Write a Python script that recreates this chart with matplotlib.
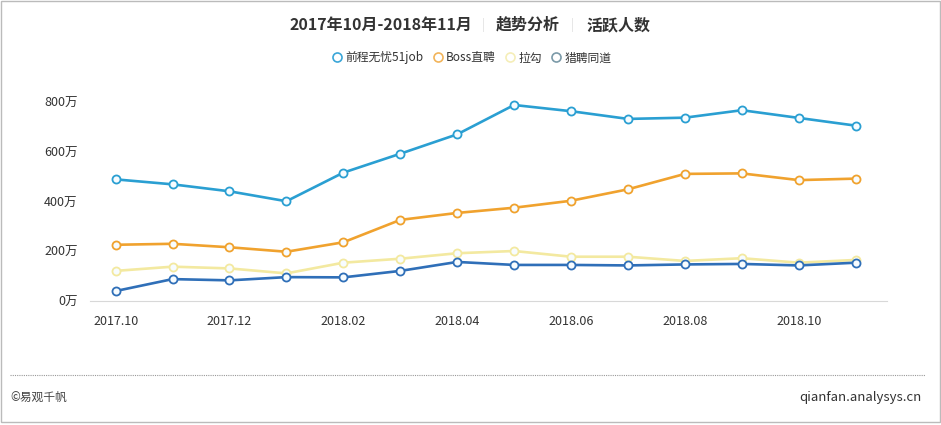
import matplotlib
matplotlib.use("Agg")
import matplotlib.pyplot as plt
import matplotlib.patches as mpatches
from matplotlib.lines import Line2D

plt.rcParams['font.family'] = ['Noto Sans CJK SC', 'DejaVu Sans']

# 数据 (单位: 万)
months = ['2017.10', '2017.11', '2017.12', '2018.01', '2018.02', '2018.03', '2018.04',
          '2018.05', '2018.06', '2018.07', '2018.08', '2018.09', '2018.10', '2018.11']
job51 = [489, 469, 441, 401, 516, 592, 670, 788, 763, 732, 737, 767, 736, 705]
boss = [226, 230, 216, 198, 236, 326, 354, 375, 403, 449, 511, 513, 486, 492]
lagou = [121, 138, 131, 111, 154, 170, 192, 201, 178, 178, 161, 172, 154, 165]
liepin = [40, 88, 83, 96, 95, 121, 157, 145, 145, 143, 147, 149, 143, 154]
series_names = ['前程无忧51job', 'Boss直聘', '拉勾', '猎聘同道']
y_ticks = [0, 200, 400, 600, 800]

colors = ['#2a9fd2', '#f0a22e', '#f3e9a0', '#2f6fb8']
legend_colors = ['#3aa6d8', '#f2b45a', '#f5eeb8', '#7b9aa8']

fig = plt.figure(figsize=(9.41, 4.25), dpi=100)
ax = fig.add_axes([90 / 941, 1 - 301 / 425, (887 - 90) / 941, (301 - 102) / 425])

x = list(range(len(months)))
for vals, c in zip([lagou, liepin, boss, job51], [colors[2], colors[3], colors[1], colors[0]]):
    ax.plot(x, vals, color=c, lw=1.9, marker='o', ms=5.8, mfc='#f7fcff', mec=c, mew=1.3,
            clip_on=False, zorder=3)

ax.set_xlim(-0.45, 13.55)
ax.set_ylim(0, 800)
ax.set_yticks(y_ticks)
ax.set_yticklabels([f'{v}万' for v in y_ticks])
ax.set_xticks(x[::2])
ax.set_xticklabels(months[::2])
ax.tick_params(length=0, labelsize=9, colors='#333333')
ax.tick_params(axis='y', pad=9)
ax.tick_params(axis='x', pad=10)
for s in ['top', 'right', 'left']:
    ax.spines[s].set_visible(False)
ax.spines['bottom'].set_color('#d8d8d8')

# 图例
handles = [Line2D([], [], ls='none', marker='o', ms=6.5, mfc='white', mec=c, mew=1.2)
           for c in legend_colors]
fig.legend(handles, series_names, loc='center', bbox_to_anchor=(472 / 941, 1 - 58 / 425),
           ncol=4, frameon=False, fontsize=8.5, handlelength=0.8, handletextpad=0.3,
           columnspacing=0.8, labelcolor='#333333')

# 标题
ty = 1 - 25 / 425
fig.text(472 / 941, ty, '2017年10月-2018年11月', ha='right', va='center', fontsize=11.5,
         fontweight='bold', color='#333333')
fig.text(483 / 941, ty, '|', ha='center', va='center', fontsize=9, color='#e0e0e0')
fig.text(528 / 941, ty, '趋势分析', ha='center', va='center', fontsize=11.5,
         fontweight='bold', color='#333333')
fig.text(572 / 941, ty, '|', ha='center', va='center', fontsize=9, color='#e0e0e0')
fig.text(618 / 941, ty, '活跃人数', ha='center', va='center', fontsize=11.5,
         fontweight='bold', color='#333333')

# 底部
fig.add_artist(Line2D([10 / 941, 925 / 941], [1 - 375 / 425] * 2, transform=fig.transFigure,
                      color='#999999', lw=0.8, ls=(0, (1, 1))))
fig.text(10 / 941, 1 - 397 / 425, '©易观千帆', ha='left', va='center', fontsize=8.5, color='#444444')
fig.text(922 / 941, 1 - 397 / 425, 'qianfan.analysys.cn', ha='right', va='center', fontsize=9.5,
         color='#333333')

# 边框
fig.add_artist(mpatches.Rectangle((0.5 / 941, 3.5 / 425), 939 / 941, 421 / 425,
                                  transform=fig.transFigure, fill=False, ec='#bbbbbb', lw=1))

fig.savefig('out.png', dpi=100)
